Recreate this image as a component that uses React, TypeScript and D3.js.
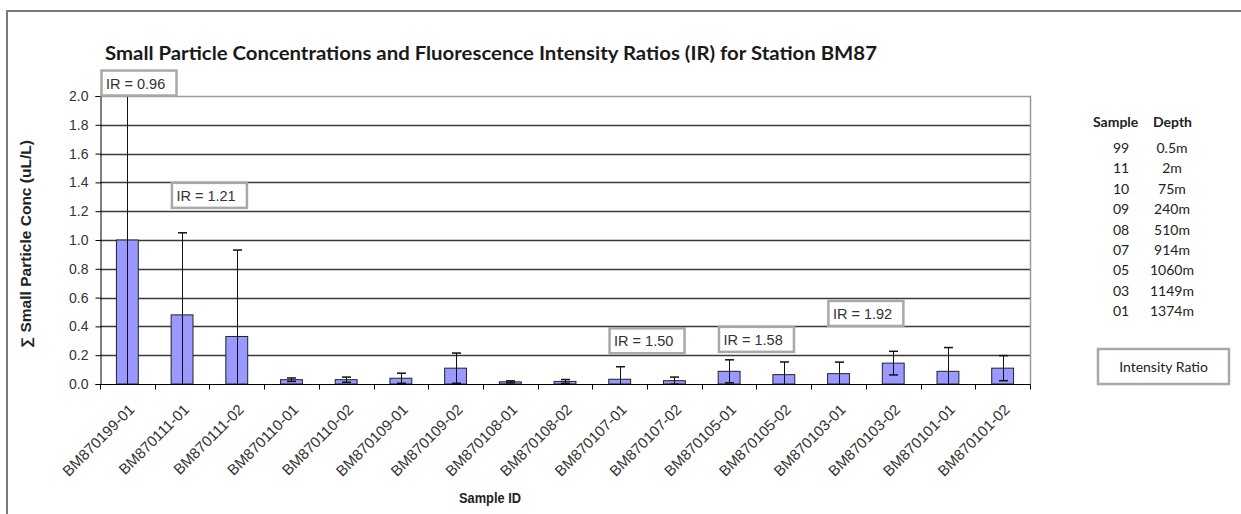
import { useEffect, useRef } from "react";
import * as d3 from "d3";

// data
const sampleIds = [
  "BM870199-01", "BM870111-01", "BM870111-02", "BM870110-01", "BM870110-02",
  "BM870109-01", "BM870109-02", "BM870108-01", "BM870108-02", "BM870107-01",
  "BM870107-02", "BM870105-01", "BM870105-02", "BM870103-01", "BM870103-02",
  "BM870101-01", "BM870101-02",
];
const concValues = [
  1.0, 0.48, 0.33, 0.03, 0.03, 0.04, 0.11, 0.015, 0.018, 0.033,
  0.023, 0.088, 0.065, 0.072, 0.145, 0.088, 0.11,
];
const concErrors = [
  1.1, 0.57, 0.6, 0.012, 0.018, 0.035, 0.105, 0.007, 0.013, 0.087,
  0.025, 0.08, 0.088, 0.08, 0.082, 0.165, 0.087,
];
const yTicks = [0, 0.2, 0.4, 0.6, 0.8, 1.0, 1.2, 1.4, 1.6, 1.8, 2.0];

// intensity ratio annotations, one per sample depth code
const irGroups = ["99", "11", "07", "05", "03"];
const irValues = ["0.96", "1.21", "1.50", "1.58", "1.92"];

// side table
const depthCodes = ["99", "11", "10", "09", "08", "07", "05", "03", "01"];
const depthValues = ["0.5m", "2m", "75m", "240m", "510m", "914m", "1060m", "1149m", "1374m"];

const App = () => {
  const ref = useRef<SVGSVGElement | null>(null);

  useEffect(() => {
    const W = 1241;
    const H = 514;
    const PLOT = { LEFT: 100, RIGHT: 1030, TOP: 96, BOTTOM: 384 };
    const ARIAL = "'Liberation Sans', Arial, sans-serif";
    const CALIBRI = "Lato, 'Open Sans', sans-serif";

    const svg = d3.select(ref.current);
    svg.selectAll("*").remove();

    svg.append("rect").attr("width", W).attr("height", H).attr("fill", "#fff");

    // outer frame (only left and top edges are in the picture)
    svg.append("path")
      .attr("d", `M7,${H} V11 H${W}`)
      .attr("fill", "none")
      .attr("stroke", "#7a7a7a")
      .attr("stroke-width", 2);

    const x = d3.scaleBand()
      .domain(sampleIds)
      .range([PLOT.LEFT, PLOT.RIGHT])
      .paddingInner(0)
      .paddingOuter(0);
    const y = d3.scaleLinear().domain([0, 2]).range([PLOT.BOTTOM, PLOT.TOP]);
    const barW = x.bandwidth() * 0.4;

    // title
    svg.append("text")
      .attr("x", 105)
      .attr("y", 60)
      .attr("font-family", CALIBRI)
      .attr("font-weight", 700)
      .attr("font-size", 18)
      .attr("fill", "#1a1a1a")
      .attr("textLength", 772)
      .attr("lengthAdjust", "spacingAndGlyphs")
      .text("Small Particle Concentrations and Fluorescence Intensity Ratios (IR) for Station BM87");

    // grid lines
    svg.append("g")
      .selectAll("line")
      .data(yTicks.filter((t) => t > 0 && t < 2))
      .join("line")
      .attr("x1", PLOT.LEFT)
      .attr("x2", PLOT.RIGHT)
      .attr("y1", (d) => Math.round(y(d)) + 0.5)
      .attr("y2", (d) => Math.round(y(d)) + 0.5)
      .attr("stroke", "#3a3a3a")
      .attr("stroke-width", 1.3);

    // plot border top/right
    svg.append("path")
      .attr("d", `M${PLOT.LEFT},${PLOT.TOP + 0.5} H${PLOT.RIGHT + 0.5} V${PLOT.BOTTOM}`)
      .attr("fill", "none")
      .attr("stroke", "#9a9a9a")
      .attr("stroke-width", 1.5);

    // y axis
    const yAxis = svg.append("g")
      .attr("transform", `translate(${PLOT.LEFT + 0.5},0)`)
      .call(d3.axisLeft(y).tickValues(yTicks).tickFormat(d3.format(".1f")).tickSize(5).tickPadding(7));
    yAxis.select(".domain").attr("stroke", "#000");
    yAxis.selectAll(".tick line").attr("stroke", "#000");
    yAxis.selectAll("text")
      .attr("font-family", ARIAL)
      .attr("font-size", 14)
      .attr("fill", "#333");

    // bars
    svg.append("g")
      .selectAll("rect")
      .data(sampleIds)
      .join("rect")
      .attr("x", (d) => (x(d) as number) + (x.bandwidth() - barW) / 2)
      .attr("y", (d, i) => y(concValues[i]))
      .attr("width", barW)
      .attr("height", (d, i) => PLOT.BOTTOM - y(concValues[i]))
      .attr("fill", "#9999ff")
      .attr("stroke", "#222")
      .attr("stroke-width", 1);

    // error bars, clipped to plot area
    svg.append("clipPath")
      .attr("id", "plot-clip")
      .append("rect")
      .attr("x", PLOT.LEFT)
      .attr("y", PLOT.TOP)
      .attr("width", PLOT.RIGHT - PLOT.LEFT)
      .attr("height", PLOT.BOTTOM - PLOT.TOP);

    const err = svg.append("g").attr("clip-path", "url(#plot-clip)");
    sampleIds.forEach((id, i) => {
      const cx = Math.round((x(id) as number) + x.bandwidth() / 2) + 0.5;
      const hi = y(concValues[i] + concErrors[i]);
      const lo = y(concValues[i] - concErrors[i]);
      err.append("line")
        .attr("x1", cx).attr("x2", cx)
        .attr("y1", hi).attr("y2", lo)
        .attr("stroke", "#111").attr("stroke-width", 1);
      [hi, lo].forEach((yy) => {
        err.append("line")
          .attr("x1", cx - 4.5).attr("x2", cx + 4.5)
          .attr("y1", yy).attr("y2", yy)
          .attr("stroke", "#111").attr("stroke-width", 1.5);
      });
    });

    // x axis
    const xAxis = svg.append("g").attr("transform", `translate(0,${PLOT.BOTTOM + 0.5})`);
    xAxis.append("line")
      .attr("x1", PLOT.LEFT).attr("x2", PLOT.RIGHT + 0.5)
      .attr("stroke", "#000");
    xAxis.selectAll("line.tk")
      .data(d3.range(sampleIds.length + 1))
      .join("line")
      .attr("class", "tk")
      .attr("x1", (i) => Math.round(PLOT.LEFT + i * x.step()) + 0.5)
      .attr("x2", (i) => Math.round(PLOT.LEFT + i * x.step()) + 0.5)
      .attr("y1", 0).attr("y2", 5)
      .attr("stroke", "#000");
    xAxis.selectAll("text")
      .data(sampleIds)
      .join("text")
      .attr("transform", (d) => `translate(${(x(d) as number) + x.bandwidth() / 2 + 8},${410 - PLOT.BOTTOM}) rotate(-45)`)
      .attr("text-anchor", "end")
      .attr("font-family", ARIAL)
      .attr("font-size", 15)
      .attr("fill", "#333")
      .text((d) => d);

    // axis titles
    svg.append("text")
      .attr("transform", `translate(31,${(140 + 348) / 2}) rotate(-90)`)
      .attr("text-anchor", "middle")
      .attr("font-family", ARIAL)
      .attr("font-weight", 700)
      .attr("font-size", 14)
      .attr("fill", "#222")
      .attr("textLength", 208)
      .attr("lengthAdjust", "spacingAndGlyphs")
      .text("\u2211 Small Particle Conc  (uL/L)");

    svg.append("text")
      .attr("x", 490)
      .attr("y", 503)
      .attr("text-anchor", "middle")
      .attr("font-family", ARIAL)
      .attr("font-weight", 700)
      .attr("font-size", 14)
      .attr("fill", "#222")
      .attr("textLength", 62)
      .attr("lengthAdjust", "spacingAndGlyphs")
      .text("Sample ID");

    // IR annotation boxes
    const boxW = 75;
    const boxH = 25;
    const irBoxY: Record<string, number> = { "99": 2.09, "11": 1.31, "07": 0.30, "05": 0.31, "03": 0.49 };
    irGroups.forEach((g, k) => {
      const members = sampleIds.filter((id) => id.slice(6, 8) === g);
      const cx = d3.mean(members, (id) => (x(id) as number) + x.bandwidth() / 2) as number;
      const left = Math.max(cx - boxW / 2, PLOT.LEFT + 1.5);
      const top = y(irBoxY[g]) - boxH / 2;
      svg.append("rect")
        .attr("x", left).attr("y", top)
        .attr("width", boxW).attr("height", boxH)
        .attr("fill", "#fff")
        .attr("stroke", "#a8a8a8")
        .attr("stroke-width", 2.5);
      svg.append("text")
        .attr("x", left + 4.5)
        .attr("y", top + 18)
        .attr("font-family", ARIAL)
        .attr("font-size", 14.5)
        .attr("fill", "#333")
        .text(`IR = ${irValues[k]}`);
    });

    // sample / depth table
    const tbl = svg.append("g").attr("font-family", CALIBRI).attr("font-size", 14).attr("fill", "#222");
    tbl.append("text").attr("x", 1093).attr("y", 127).attr("font-weight", 700).text("Sample");
    tbl.append("text").attr("x", 1153).attr("y", 127).attr("font-weight", 700).text("Depth");
    const rowY = d3.scaleLinear().domain([0, depthCodes.length - 1]).range([153, 316]);
    tbl.selectAll("text.code")
      .data(depthCodes)
      .join("text")
      .attr("class", "code")
      .attr("x", 1121)
      .attr("y", (d, i) => rowY(i))
      .attr("text-anchor", "middle")
      .text((d) => d);
    tbl.selectAll("text.depth")
      .data(depthValues)
      .join("text")
      .attr("class", "depth")
      .attr("x", 1172)
      .attr("y", (d, i) => rowY(i))
      .attr("text-anchor", "middle")
      .text((d) => d);

    // "Intensity Ratio" legend box
    svg.append("rect")
      .attr("x", 1098).attr("y", 349)
      .attr("width", 131).attr("height", 35)
      .attr("fill", "#fff")
      .attr("stroke", "#a8a8a8")
      .attr("stroke-width", 2.5);
    svg.append("text")
      .attr("x", 1163.5)
      .attr("y", 372)
      .attr("text-anchor", "middle")
      .attr("font-family", CALIBRI)
      .attr("font-size", 14)
      .attr("fill", "#222")
      .text("Intensity Ratio");
  }, []);

  return (
    <svg
      ref={ref}
      width={1241}
      height={514}
      style={{ position: "absolute", left: 0, top: 0, display: "block" }}
    />
  );
};

export default App;
